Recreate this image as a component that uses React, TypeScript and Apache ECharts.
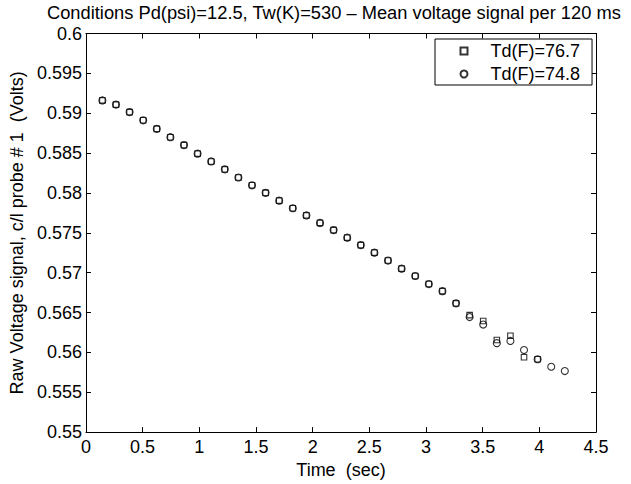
import React, { useEffect, useRef } from "react";
import * as echarts from "echarts";

const timeSec = [
  0.145, 0.265, 0.385, 0.505, 0.625, 0.745, 0.865, 0.985, 1.105, 1.225,
  1.345, 1.465, 1.585, 1.705, 1.825, 1.945, 2.065, 2.185, 2.305, 2.425,
  2.545, 2.665, 2.785, 2.905, 3.025, 3.145, 3.265, 3.385, 3.505, 3.625,
  3.745, 3.865, 3.985, 4.105, 4.225,
];

// Td(F)=76.7 (squares)
const td767 = [
  0.59161, 0.59108, 0.59014, 0.58911, 0.58804, 0.58699, 0.586, 0.58493, 0.58395, 0.58296,
  0.58194, 0.58096, 0.58001, 0.57903, 0.57808, 0.57718, 0.57624, 0.57534, 0.57439, 0.57346,
  0.57251, 0.57152, 0.5705, 0.56958, 0.56857, 0.56768, 0.56615, 0.56467, 0.56394, 0.56156,
  0.56209, 0.55939, 0.55914,
];

// Td(F)=74.8 (circles)
const td748 = [
  0.59161, 0.59108, 0.59014, 0.58911, 0.58804, 0.58699, 0.586, 0.58493, 0.58395, 0.58296,
  0.58194, 0.58096, 0.58001, 0.57903, 0.57808, 0.57718, 0.57624, 0.57534, 0.57439, 0.57346,
  0.57251, 0.57152, 0.5705, 0.56958, 0.56857, 0.56768, 0.56615, 0.56443, 0.56349, 0.56116,
  0.56144, 0.5603, 0.55914, 0.5582, 0.55766,
];

const seriesNames = ["Td(F)=76.7", "Td(F)=74.8"];
const titleText = "Conditions Pd(psi)=12.5, Tw(K)=530 \u2013 Mean voltage signal per 120 ms";
const xName = "Time  (sec)";
const yName = "Raw Voltage signal, c/l probe # 1  (Volts)";

const FONT = "Liberation Sans, Arial, Helvetica, sans-serif";

export default function App() {
  const ref = useRef<HTMLDivElement>(null);
  useEffect(() => {
    if (!ref.current) return;
    const chart = echarts.init(ref.current, null, { renderer: "svg" });
    const sq = td767.map((v, i) => [timeSec[i], v]);
    const ci = td748.map((v, i) => [timeSec[i], v]);
    const markerStyle = { color: "transparent", borderColor: "#000", borderWidth: 1.1 };
    const baseX = {
      type: "value",
      min: 0,
      max: 4.5,
      interval: 0.5,
      splitLine: { show: false },
      axisLine: { show: true, onZero: false, lineStyle: { color: "#000", width: 1 } },
      axisTick: { show: true, inside: true, length: 5, lineStyle: { color: "#000" } },
    };
    const baseY = {
      type: "value",
      min: 0.55,
      max: 0.6,
      interval: 0.005,
      splitLine: { show: false },
      axisLine: { show: true, onZero: false, lineStyle: { color: "#000", width: 1 } },
      axisTick: { show: true, inside: true, length: 5, lineStyle: { color: "#000" } },
    };
    chart.setOption({
      animation: false,
      backgroundColor: "#fff",
      textStyle: { fontFamily: FONT, color: "#000" },
      title: {
        text: titleText,
        left: 47,
        top: 3,
        padding: 0,
        textStyle: { fontFamily: FONT, fontSize: 18.3, fontWeight: "normal", color: "#000", lineHeight: 18 },
      },
      grid: { left: 80, right: 35, top: 33.5, bottom: 44, containLabel: false },
      legend: {
        left: 435,
        top: 39,
        orient: "vertical",
        padding: [3, 12, 2, 24.5],
        itemGap: 5,
        itemWidth: 7,
        itemHeight: 7,
        borderColor: "#000",
        borderWidth: 1,
        backgroundColor: "#fff",
        textStyle: { fontFamily: FONT, fontSize: 18, color: "#000", lineHeight: 18, padding: [0, 0, 0, 18] },
        data: [
          { name: seriesNames[0], icon: "rect" },
          { name: seriesNames[1], icon: "circle" },
        ],
      },
      xAxis: [
        {
          ...baseX,
          position: "bottom",
          name: xName,
          nameLocation: "middle",
          nameGap: 24,
          nameTextStyle: { fontFamily: FONT, fontSize: 18, color: "#000", lineHeight: 18 },
          axisLabel: {
            show: true,
            margin: 6,
            fontFamily: FONT,
            fontSize: 18,
            color: "#000",
            formatter: (v: number) => String(parseFloat(v.toFixed(2))),
          },
        },
        { ...baseX, position: "top", axisLabel: { show: false } },
      ],
      yAxis: [
        {
          ...baseY,
          position: "left",
          name: yName,
          nameLocation: "middle",
          nameGap: 52,
          nameTextStyle: { fontFamily: FONT, fontSize: 18, color: "#000", lineHeight: 18 },
          axisLabel: {
            show: true,
            margin: 4,
            fontFamily: FONT,
            fontSize: 18,
            color: "#000",
            formatter: (v: number) => String(parseFloat(v.toFixed(3))),
          },
        },
        { ...baseY, position: "right", axisLabel: { show: false } },
      ],
      series: [
        {
          name: seriesNames[0],
          type: "scatter",
          xAxisIndex: 0,
          yAxisIndex: 0,
          symbol: "rect",
          symbolSize: 5.5,
          itemStyle: markerStyle,
          data: sq,
        },
        {
          name: seriesNames[1],
          type: "scatter",
          xAxisIndex: 0,
          yAxisIndex: 0,
          symbol: "circle",
          symbolSize: 7,
          itemStyle: markerStyle,
          data: ci,
        },
      ],
    });
    return () => chart.dispose();
  }, []);
  return (
    <div
      ref={ref}
      style={{ position: "fixed", left: 0, top: 0, width: 631, height: 484, background: "#fff" }}
    />
  );
}
